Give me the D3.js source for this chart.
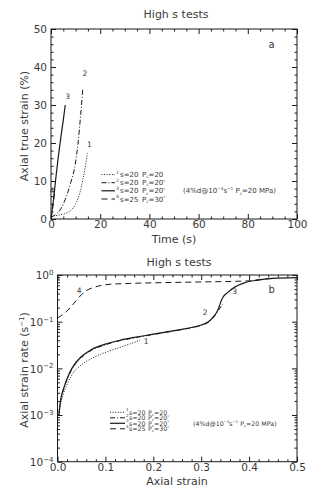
<!DOCTYPE html>
<html><head><meta charset="utf-8">
<script src="https://cdn.jsdelivr.net/npm/d3@7/dist/d3.min.js"></script>
<style>
body{margin:0;background:#fff}
text{font-family:"DejaVu Sans",Verdana,sans-serif;fill:#3a3a3a}
</style></head><body>
<svg id="c" width="322" height="491"></svg>
<script>
// ---------- DATA ----------
const chartTitle = "High s tests";
// panel a : time (s) vs axial true strain (%)
const a1Time = [0, 3, 6, 8, 10, 12, 13, 14, 14.8];
const a1Strain = [0.8, 1, 1.5, 2.2, 4, 7.5, 10.5, 14, 17.3];
const a2Time = [0, 2, 4, 6, 8, 10, 11, 12, 12.9];
const a2Strain = [0.5, 1.2, 2.7, 5.5, 9.5, 15, 20, 27, 34];
const a3Time = [0, 0.5, 1, 2, 3, 4, 5, 5.8];
const a3Strain = [0.3, 2.5, 5, 11, 16.5, 21.5, 26, 30];
const a4Time = [0, 0.3, 0.6, 1.0, 1.4];
const a4Strain = [0, 1, 2.5, 4.5, 7];
const aXTicks = [0, 20, 40, 60, 80, 100];
const aYTicks = [0, 10, 20, 30, 40, 50];
// panel b : axial strain vs axial strain rate (1/s)
const b1Strain = [0.003, 0.005, 0.008, 0.012, 0.02, 0.03, 0.05, 0.07, 0.09, 0.12, 0.15, 0.172];
const b1Rate = [0.001, 0.0014, 0.002, 0.0028, 0.0045, 0.0072, 0.012, 0.016, 0.02, 0.026, 0.033, 0.04];
const b2Strain = [0.003, 0.005, 0.008, 0.012, 0.02, 0.03, 0.05, 0.07, 0.1, 0.13, 0.16, 0.2, 0.25, 0.28, 0.3, 0.315, 0.325, 0.335, 0.345];
const b2Rate = [0.0011, 0.0016, 0.0024, 0.0034, 0.0058, 0.0095, 0.017, 0.024, 0.032, 0.039, 0.045, 0.053, 0.065, 0.074, 0.083, 0.097, 0.12, 0.17, 0.24];
const b3Strain = [0.003, 0.005, 0.008, 0.012, 0.02, 0.03, 0.05, 0.07, 0.1, 0.13, 0.16, 0.2, 0.25, 0.28, 0.3, 0.315, 0.325, 0.335, 0.34, 0.345, 0.355, 0.37, 0.39, 0.42, 0.45, 0.5];
const b3Rate = [0.001, 0.0016, 0.0025, 0.0035, 0.006, 0.01, 0.018, 0.025, 0.033, 0.04, 0.046, 0.054, 0.066, 0.075, 0.085, 0.1, 0.125, 0.18, 0.25, 0.33, 0.42, 0.55, 0.68, 0.78, 0.85, 0.88];
const b4Strain = [0, 0.01, 0.02, 0.03, 0.04, 0.05, 0.06, 0.08, 0.1, 0.15, 0.2, 0.3, 0.4, 0.42, 0.45];
const b4Rate = [0.12, 0.14, 0.17, 0.22, 0.29, 0.38, 0.46, 0.56, 0.62, 0.66, 0.68, 0.71, 0.75, 0.8, 0.85];
const bXTicks = [0, 0.1, 0.2, 0.3, 0.4, 0.5];
const bYExponents = [-4, -3, -2, -1, 0];
// legend
const legendIds = ["1", "2", "3", "4"];
const legendS = ["s=20", "s=20", "s=20", "s=25"];
const legendPc = ["20", "20", "20", "30"];
const legendStar = ["", "*", "*", "*"];
const dashes = ["1,1.6", "5,2,1,2", null, "6,4"];

// ---------- DRAW ----------
const svg = d3.select("#c");
const ink = "#1a1a1a";

function drawPanel(o) {
  const g = svg.append("g");
  g.append("rect").attr("x", o.x.range()[0]).attr("y", o.y.range()[1])
    .attr("width", o.x.range()[1] - o.x.range()[0]).attr("height", o.y.range()[0] - o.y.range()[1])
    .attr("fill", "none").attr("stroke", ink).attr("stroke-width", 1);
  const X0 = o.x.range()[0], X1 = o.x.range()[1], Y0 = o.y.range()[0], Y1 = o.y.range()[1];
  const ax = (gen, tf, vals, size, labels) => {
    const a = g.append("g").attr("transform", tf)
      .call(gen.tickValues(vals).tickSize(-size).tickSizeOuter(0));
    a.select(".domain").remove();
    a.selectAll("line").attr("stroke", ink);
    if (!labels) a.selectAll("text").remove();
    return a;
  };
  const bx = ax(d3.axisBottom(o.x).tickFormat(o.xfmt), `translate(0,${Y0})`, o.xMajor, 5, true);
  bx.selectAll("text").attr("font-size", 10.5).attr("y", 2).attr("dy", "0.71em");
  ax(d3.axisBottom(o.x), `translate(0,${Y0})`, o.xMinor, 2.5, false);
  ax(d3.axisTop(o.x), `translate(0,${Y1})`, o.xMajor, 5, false);
  ax(d3.axisTop(o.x), `translate(0,${Y1})`, o.xMinor, 2.5, false);
  const ly = ax(d3.axisLeft(o.y), `translate(${X0},0)`, o.yMajor, 5, true);
  ly.selectAll("text").attr("font-size", 10.5).attr("x", -4).attr("dy", "0.35em");
  if (o.yLabel) o.yLabel(ly);
  ax(d3.axisLeft(o.y), `translate(${X0},0)`, o.yMinor, 2.5, false);
  ax(d3.axisRight(o.y), `translate(${X1},0)`, o.yMajor, 5, false);
  ax(d3.axisRight(o.y), `translate(${X1},0)`, o.yMinor, 2.5, false);
  const line = d3.line().x(d => o.x(d[0])).y(d => o.y(d[1])).curve(d3.curveMonotoneX);
  o.series.forEach((s, i) => {
    const p = g.append("path").datum(d3.zip(s[0], s[1])).attr("d", line)
      .attr("fill", "none").attr("stroke", ink).attr("stroke-width", i === 2 ? 1.2 : 1);
    if (dashes[i]) p.attr("stroke-dasharray", dashes[i]);
  });
  return g;
}

function addLegend(g, lx0, lx1, yRows, textX, pX, parenX, fs) {
  legendIds.forEach((id, i) => {
    const y = yRows[i];
    const l = g.append("line").attr("x1", lx0).attr("x2", lx1).attr("y1", y).attr("y2", y)
      .attr("stroke", ink).attr("stroke-width", i === 2 ? 1.2 : 1);
    if (dashes[i]) l.attr("stroke-dasharray", dashes[i]);
    g.append("text").attr("x", lx1 + 1).attr("y", y - 1).attr("font-size", fs * 0.65).text(id);
    g.append("text").attr("x", textX).attr("y", y + fs * 0.36).attr("font-size", fs).text(legendS[i]);
    const t = g.append("text").attr("x", pX).attr("y", y + fs * 0.36).attr("font-size", fs);
    t.append("tspan").text("P");
    t.append("tspan").attr("font-size", fs * 0.6).attr("dy", 1.2).text("c");
    t.append("tspan").attr("dy", -1.2).text("=" + legendPc[i]);
    if (legendStar[i]) t.append("tspan").attr("font-size", fs * 0.6).attr("dy", -2.5).text(legendStar[i]);
    if (i === 2) {
      const q = g.append("text").attr("x", parenX).attr("y", y + fs * 0.36).attr("font-size", fs);
      q.append("tspan").text("(4%d@10");
      q.append("tspan").attr("font-size", fs * 0.6).attr("dy", -3).text("\u22124");
      q.append("tspan").attr("dy", 3).text("s");
      q.append("tspan").attr("font-size", fs * 0.6).attr("dy", -3).text("\u22121");
      q.append("tspan").attr("dy", 3).text("  P");
      q.append("tspan").attr("font-size", fs * 0.6).attr("dy", 1.2).text("c");
      q.append("tspan").attr("dy", -1.2).text("=20 MPa)");
    }
  });
}

// ----- panel a -----
const xa = d3.scaleLinear().domain([0, 100]).range([51, 297]);
const ya = d3.scaleLinear().domain([0, 50]).range([219, 29]);
const ga = drawPanel({
  x: xa, y: ya, xMajor: aXTicks, xMinor: d3.range(0, 101, 5).filter(v => v % 20),
  yMajor: aYTicks, yMinor: d3.range(0, 51, 2).filter(v => v % 10),
  xfmt: d3.format("d"),
  series: [[a1Time, a1Strain], [a2Time, a2Strain], [a3Time, a3Strain], [a4Time, a4Strain]]
});
svg.append("text").attr("x", 176).attr("y", 18).attr("text-anchor", "middle").attr("font-size", 11).text(chartTitle);
svg.append("text").attr("x", 174).attr("y", 243).attr("text-anchor", "middle").attr("font-size", 11).text("Time  (s)");
svg.append("text").attr("transform", "translate(28,126) rotate(-90)").attr("text-anchor", "middle").attr("font-size", 11).text("Axial  true  strain  (%)");
[["1", 15.6, 19.7], ["2", 13.8, 38.3], ["3", 6.8, 32.2], ["4", 0.5, 7.5], ["a", 89.7, 45.8]].forEach(d => {
  ga.append("text").attr("x", xa(d[1])).attr("y", ya(d[2])).attr("dy", "0.35em").attr("text-anchor", "middle")
    .attr("font-size", d[0] === "a" ? 10 : 7.5).text(d[0]);
});
addLegend(ga, 101.5, 115, [174.5, 182.7, 190.8, 199], 120, 142, 183, 7);

// ----- panel b -----
const xb = d3.scaleLinear().domain([0, 0.5]).range([57.5, 297]);
const yb = d3.scaleLog().domain([1e-4, 1]).range([461.7, 275]);
const bMinor = [];
bYExponents.slice(0, -1).forEach(e => { for (let m = 2; m <= 9; m++) bMinor.push(m * Math.pow(10, e)); });
const gb = drawPanel({
  x: xb, y: yb, xMajor: bXTicks, xMinor: d3.range(0, 0.5001, 0.02).filter(v => Math.abs(v * 10 - Math.round(v * 10)) > 1e-6),
  yMajor: bYExponents.map(e => Math.pow(10, e)), yMinor: bMinor,
  xfmt: d3.format(".1f"),
  yLabel: sel => {
    sel.selectAll(".tick text").each(function (d) {
      const t = d3.select(this).text("");
      t.append("tspan").text("10");
      t.append("tspan").attr("font-size", 7).attr("dy", "-0.6em").text(String(Math.round(Math.log10(d))).replace("-", "\u2212"));
    });
  },
  series: [[b1Strain, b1Rate], [b2Strain, b2Rate], [b3Strain, b3Rate], [b4Strain, b4Rate]]
});
svg.append("text").attr("x", 179).attr("y", 266).attr("text-anchor", "middle").attr("font-size", 11).text(chartTitle);
svg.append("text").attr("x", 177).attr("y", 485).attr("text-anchor", "middle").attr("font-size", 11).text("Axial  strain");
const yt = svg.append("text").attr("transform", "translate(28,370) rotate(-90)").attr("text-anchor", "middle").attr("font-size", 11);
yt.append("tspan").text("Axial  strain  rate  (s");
yt.append("tspan").attr("font-size", 7).attr("dy", -4).text("\u22121");
yt.append("tspan").attr("dy", 4).text(")");
[["1", 0.185, 0.037], ["2", 0.308, 0.155], ["3", 0.37, 0.44], ["4", 0.045, 0.48], ["b", 0.447, 0.5]].forEach(d => {
  gb.append("text").attr("x", xb(d[1])).attr("y", yb(d[2])).attr("dy", "0.35em").attr("text-anchor", "middle")
    .attr("font-size", d[0] === "b" ? 10 : 7.5).text(d[0]);
});
addLegend(gb, 110, 125, [412.3, 417.8, 423.3, 428.8], 129, 148, 193, 6.3);
</script></body></html>
